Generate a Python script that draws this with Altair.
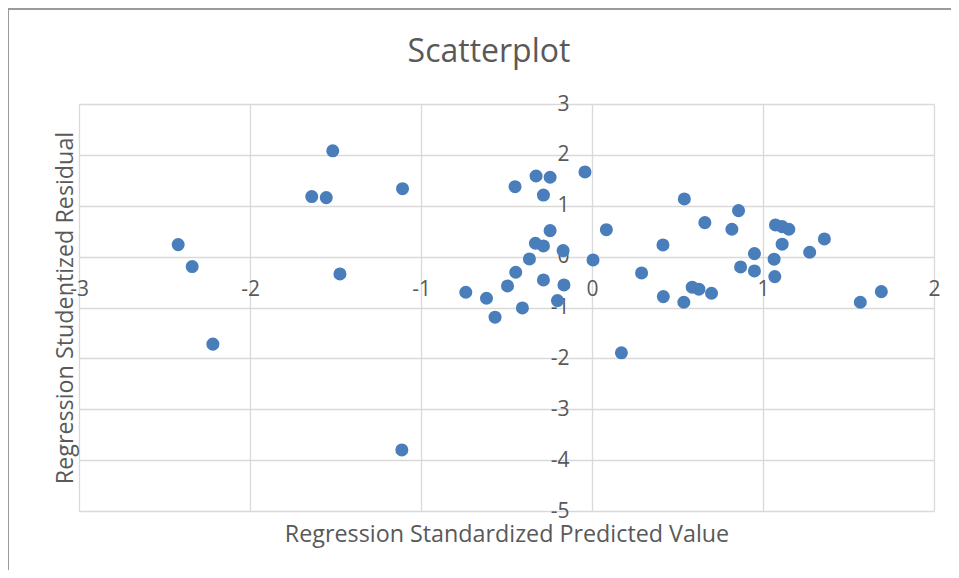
import altair as alt
import pandas as pd

# Regression Standardized Predicted Value (x) and Studentized Residual (y)
pred = [-2.42, -2.338, -2.217, -1.516, -1.639, -1.554, -1.474, -1.108, -1.112,
        -0.738, -0.617, -0.567, -0.494, -0.446, -0.450, -0.407, -0.366, -0.331,
        -0.327, -0.284, -0.284, -0.284, -0.245, -0.245, -0.202, -0.169, -0.164,
        -0.041, 0.006, 0.084, 0.172, 0.290, 0.415, 0.417, 0.537, 0.540, 0.586,
        0.625, 0.699, 0.660, 0.818, 0.857, 0.869, 0.950, 0.950, 1.065, 1.069,
        1.073, 1.112, 1.151, 1.112, 1.273, 1.359, 1.569, 1.692]
resid = [0.236, -0.196, -1.72, 2.08, 1.18, 1.16, -0.34, 1.336, -3.80,
         -0.70, -0.818, -1.19, -0.576, -0.307, 1.375, -1.008, -0.045, 0.263,
         1.585, 0.21, 1.21, -0.458, 1.56, 0.511, -0.864, 0.118, -0.556,
         1.664, -0.065, 0.53, -1.89, -0.32, 0.23, -0.786, -0.897, 1.133, -0.60,
         -0.64, -0.72, 0.668, 0.538, 0.904, -0.202, 0.059, -0.281, -0.051, -0.393,
         0.623, 0.59, 0.538, 0.244, 0.086, 0.348, -0.897, -0.688]
x_ticks = [-3, -2, -1, 0, 1, 2]
y_ticks = [-5, -4, -3, -2, -1, 0, 1, 2, 3]

df = pd.DataFrame({"pred": pred, "resid": resid})

W, H = 855, 407
FONT = "Open Sans"
GRAY = "#595959"
LBL = 21

x_axis = alt.Axis(values=x_ticks, offset=-H * 5 / 8, labelPadding=22,
                  labelExpr="'' + datum.value",
                  title="Regression Standardized Predicted Value",
                  titleX=W / 2, titleY=285, titleBaseline="alphabetic",
                  titleAlign="center")
y_axis = alt.Axis(values=y_ticks, offset=-W * 3 / 5, labelPadding=23,
                  labelExpr="'' + datum.value",
                  title="Regression Studentized Residual",
                  titleX=-520, titleY=H / 2, titleBaseline="alphabetic",
                  titleAlign="center", titleAngle=-90)

points = alt.Chart(df).mark_circle(size=170, color="#4A7EBB", opacity=1).encode(
    x=alt.X("pred:Q", scale=alt.Scale(domain=[-3, 2], nice=False, zero=False), axis=x_axis),
    y=alt.Y("resid:Q", scale=alt.Scale(domain=[-5, 3], nice=False, zero=False), axis=y_axis),
)

frame = alt.Chart(pd.DataFrame({"f": [0]})).mark_rect(
    fillOpacity=0, stroke="#9a9a9a", strokeWidth=2
).encode(x=alt.value(-71), x2=alt.value(890), y=alt.value(-95), y2=alt.value(480))

chart = alt.layer(frame, points).properties(
    width=W, height=H,
    title=alt.TitleParams("Scatterplot", font=FONT, fontSize=32, fontWeight="normal",
                          color=GRAY, anchor="middle", offset=0, dx=-17.5, dy=86,
                          baseline="alphabetic"),
    autosize=alt.AutoSizeParams(type="none"),
    padding={"left": 71, "top": 96, "right": 17, "bottom": 59},
).configure_view(stroke=None).configure_axis(
    gridColor="#D9D9D9", gridWidth=1.3, domain=False, ticks=False,
    labelFont=FONT, labelFontSize=LBL, labelColor=GRAY,
    labelFlush=False, labelOverlap=False, labelBound=False,
    titleFont=FONT, titleFontSize=23.3, titleColor=GRAY, titleFontWeight="normal",
)

chart.save("out.html", embed_options={"renderer": "svg", "actions": False})
